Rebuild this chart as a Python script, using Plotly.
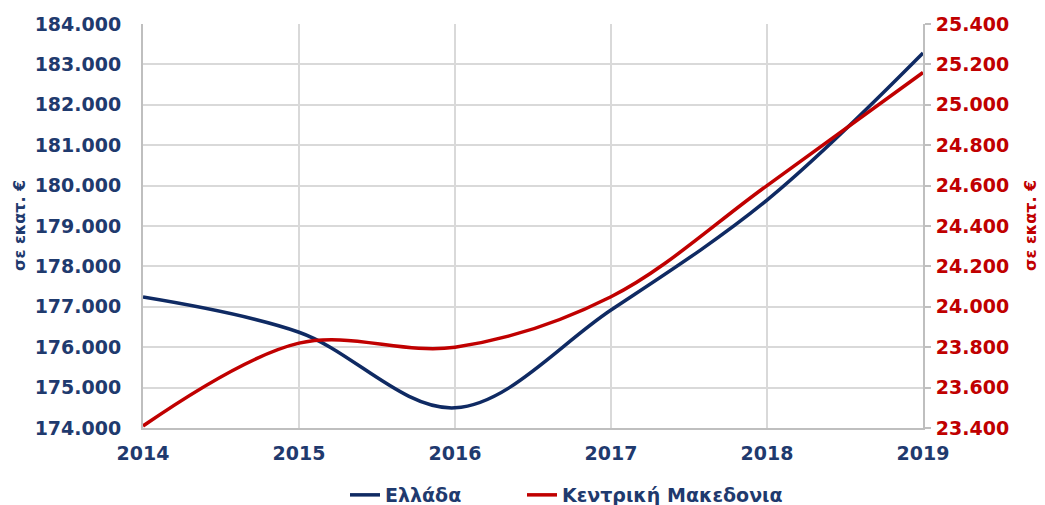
import plotly.graph_objects as go

years = [2014, 2015, 2016, 2017, 2018, 2019]
greece = [177240, 176370, 174500, 176920, 179640, 183280]
central_macedonia = [23410, 23820, 23800, 24050, 24600, 25160]
series_names = ["Ελλάδα", "Κεντρική Μακεδονια"]
axis_title = "σε εκατ. €"

NAVY = "#1F3A6E"
LINE_NAVY = "#0F2A63"
RED = "#C00000"
GRID = "#D9D9D9"
AXIS = "#BFBFBF"
FONT = "DejaVu Sans"

fig = go.Figure()
fig.add_trace(go.Scatter(x=years, y=greece, name=series_names[0], mode="lines",
                         line=dict(color=LINE_NAVY, width=3.5, shape="spline", smoothing=1.0),
                         yaxis="y", legend="legend"))
fig.add_trace(go.Scatter(x=years, y=central_macedonia, name=series_names[1], mode="lines",
                         line=dict(color=RED, width=3.5, shape="spline", smoothing=1.0),
                         yaxis="y2", legend="legend2"))

tickfont_navy = dict(family=FONT, size=19, color=NAVY, weight="bold")
tickfont_red = dict(family=FONT, size=19, color=RED, weight="bold")

L, R, T, B = 135, 130, 16, 85
PW = 1045 - L - R
PH = 505 - T - B
legend_font = dict(family=FONT, size=19, color=NAVY, weight="bold")

fig.update_layout(
    width=1045, height=505,
    margin=dict(l=L, r=R, t=T, b=B, autoexpand=False),
    paper_bgcolor="white", plot_bgcolor="white",
    separators=",.",
    showlegend=True,
    legend=dict(orientation="h", x=(337 - L) / PW, xanchor="left", y=-67 / PH, yanchor="middle",
                font=legend_font),
    legend2=dict(orientation="h", x=(514 - L) / PW, xanchor="left", y=-67 / PH, yanchor="middle",
                 font=legend_font),
    xaxis=dict(range=[2014, 2019], tickmode="array", tickvals=years,
               ticktext=[str(y) for y in years], automargin=False,
               showgrid=True, gridcolor=GRID, gridwidth=2,
               showline=True, linecolor=AXIS, linewidth=2,
               ticks="", ticklabelstandoff=7,
               tickfont=tickfont_navy, zeroline=False),
    yaxis=dict(range=[174000, 184000], dtick=1000, tickformat=",d", automargin=False,
               showgrid=True, gridcolor=GRID, gridwidth=2,
               showline=True, linecolor=AXIS, linewidth=2,
               ticks="", ticklabelstandoff=16, tickfont=tickfont_navy, zeroline=False),
    yaxis2=dict(range=[23400, 25400], dtick=200, tickformat=",d", overlaying="y", side="right",
                automargin=False,
                showgrid=False, showline=True, linecolor=AXIS, linewidth=2,
                ticks="outside", ticklen=6, tickcolor=AXIS, tickwidth=2,
                ticklabelstandoff=1,
                tickfont=tickfont_red, zeroline=False),
    annotations=[
        dict(text=axis_title, textangle=-90, xref="paper", yref="paper",
             x=(11 - L) / PW, y=0.5, xanchor="center", yanchor="middle", showarrow=False,
             font=dict(family=FONT, size=16, color=NAVY, weight="bold")),
        dict(text=axis_title, textangle=-90, xref="paper", yref="paper",
             x=(1022 - L) / PW, y=0.5, xanchor="center", yanchor="middle", showarrow=False,
             font=dict(family=FONT, size=16, color=RED, weight="bold")),
    ],
)

fig.write_html("out.html")
